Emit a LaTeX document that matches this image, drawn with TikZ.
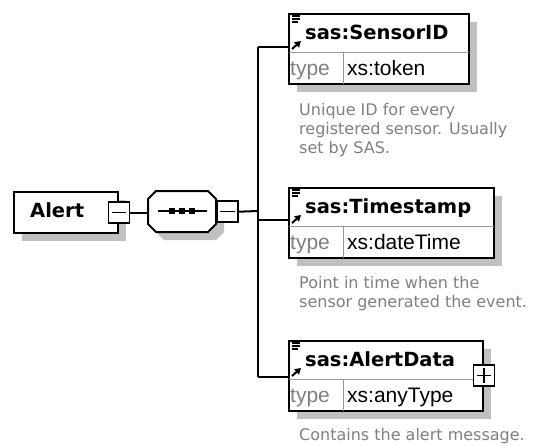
\documentclass[tikz,border=0pt]{standalone}
\usepackage{fontspec}
\setmainfont{DejaVu Sans}
\newfontfamily\typefont{Liberation Sans}
\usetikzlibrary{shadows,calc,arrows.meta}
\definecolor{shadowc}{RGB}{192,192,192}
\definecolor{descc}{RGB}{128,128,128}
\definecolor{divc}{RGB}{150,150,150}
\begin{document}
\begin{tikzpicture}[x=1pt,y=-1pt,
  box/.style={draw=black, line width=2pt, fill=white, inner sep=0pt, rectangle, anchor=north west},
  shad/.style={drop shadow={shadow xshift=8pt, shadow yshift=-8pt, opacity=1, fill=shadowc, draw=none}},
  togglebox/.style={draw=black, line width=1.5pt, fill=white, inner sep=0pt, rectangle, minimum width=21pt, minimum height=21pt},
  conn/.style={line width=2pt},
  divline/.style={draw=divc, line width=1pt},
  namelbl/.style={anchor=base west, inner sep=0pt, font=\bfseries\fontsize{19.5}{19.5}\selectfont},
  typelbl/.style={anchor=base west, inner sep=0pt, font=\typefont\fontsize{21}{21}\selectfont},
  desclbl/.style={anchor=north west, inner sep=0pt, align=left, text=descc, font=\fontsize{16}{19}\selectfont},
  icon/.style={line width=1.2pt}
]
\fill[white] (0,0) rectangle (533,445);
\useasboundingbox (0,0) rectangle (533,445);

% Alert element
\node[box, shad, minimum width=104pt, minimum height=41pt] (alert) at (13,191) {};
\node[namelbl] (alertlbl) at (30,217) {Alert};
\node[togglebox] (am) at (alert.east) {};
\draw[line width=1.5pt] ([xshift=4pt]am.west) -- ([xshift=-4pt]am.east);

% sequence compositor (octagon)
\node[inner sep=0pt, minimum width=68pt, minimum height=41pt, anchor=north west] (seq) at (148,191) {};
\fill[shadowc] (156+8,199) -- (208+8,199) -- (216+8,199+8) -- (216+8,232+8-8) -- (208+8,232+8) -- (156+8,232+8) -- (148+8,224+8) -- (148+8,207) -- cycle;
\filldraw[fill=white, draw=black, line width=2pt]
  (156,191) -- (208,191) -- (216,199) -- (216,224) -- (208,232) -- (156,232) -- (148,224) -- (148,199) -- cycle;
\draw[line width=1.5pt] (158,211) -- (207,211);
\fill (169,208) rectangle (175,214);
\fill (179,208) rectangle (185,214);
\fill (189,208) rectangle (195,214);
\node[togglebox, anchor=west] (sm) at (seq.east) {};
\draw[line width=1.5pt] ([xshift=4pt]sm.west) -- ([xshift=-4pt]sm.east);

\draw[conn] (am.east) -- (am.east -| seq.west);

% bus
\coordinate (j) at (258,211);
\coordinate (bt) at (258,47);
\coordinate (bm) at (258,220);
\coordinate (bb) at (258,377);
\draw[conn] (sm.east) -- (j);
\draw[conn] (bt) -- (bb);

% element boxes
\node[box, shad, minimum width=180pt, minimum height=70pt] (sid) at (288,13) {};
\node[box, shad, minimum width=205pt, minimum height=70pt] (ts) at (288,187) {};
\node[box, shad, minimum width=194pt, minimum height=70pt] (ad) at (288,340) {};

\draw[conn] (bt) -- (bt -| sid.west);
\draw[conn] (bm) -- (bm -| ts.west);
\draw[conn] (bb) -- (bb -| ad.west);

\foreach \n/\name/\type in {sid/sas:SensorID/xs:token, ts/sas:Timestamp/xs:dateTime, ad/sas:AlertData/xs:anyType}{
  \draw[divline] ($(\n.north west)+(1,39)$) -- ($(\n.north east)+(-1,39)$);
  \draw[divline] ($(\n.north west)+(55,39)$) -- ($(\n.south west)+(55,-1)$);
  \node[namelbl] (\n-name) at ($(\n.north west)+(17,26)$) {\name};
  \node[typelbl, text=descc] (\n-tlbl) at ($(\n.north west)+(2,62)$) {type};
  \node[typelbl] (\n-type) at ($(\n.north west)+(59,62)$) {\type};
  \draw[icon] ($(\n.north west)+(4,3)$) -- ++(8,0);
  \draw[icon] ($(\n.north west)+(4,6)$) -- ++(8,0);
  \draw[icon] ($(\n.north west)+(4,9)$) -- ++(6,0);
  \draw[line width=2pt, -{Triangle[length=6pt,width=7pt]}] ($(\n.north west)+(4,36)$) -- ++(9,-8);
}

% plus box on AlertData
\node[togglebox] (ap) at (ad.east |- 0,375.5) {};
\draw[line width=1.5pt] ([xshift=4pt]ap.west) -- ([xshift=-4pt]ap.east);
\draw[line width=1.5pt] ([yshift=4pt]ap.south) -- ([yshift=-4pt]ap.north);

% descriptions
\node[desclbl] (sid-doc) at (299,103) {Unique ID for every\\registered sensor. Usually\\set by SAS.};
\node[desclbl] (ts-doc) at (299,276) {Point in time when the\\sensor generated the event.};
\node[desclbl] (ad-doc) at (299,428) {Contains the alert message.};
\end{tikzpicture}
\end{document}
